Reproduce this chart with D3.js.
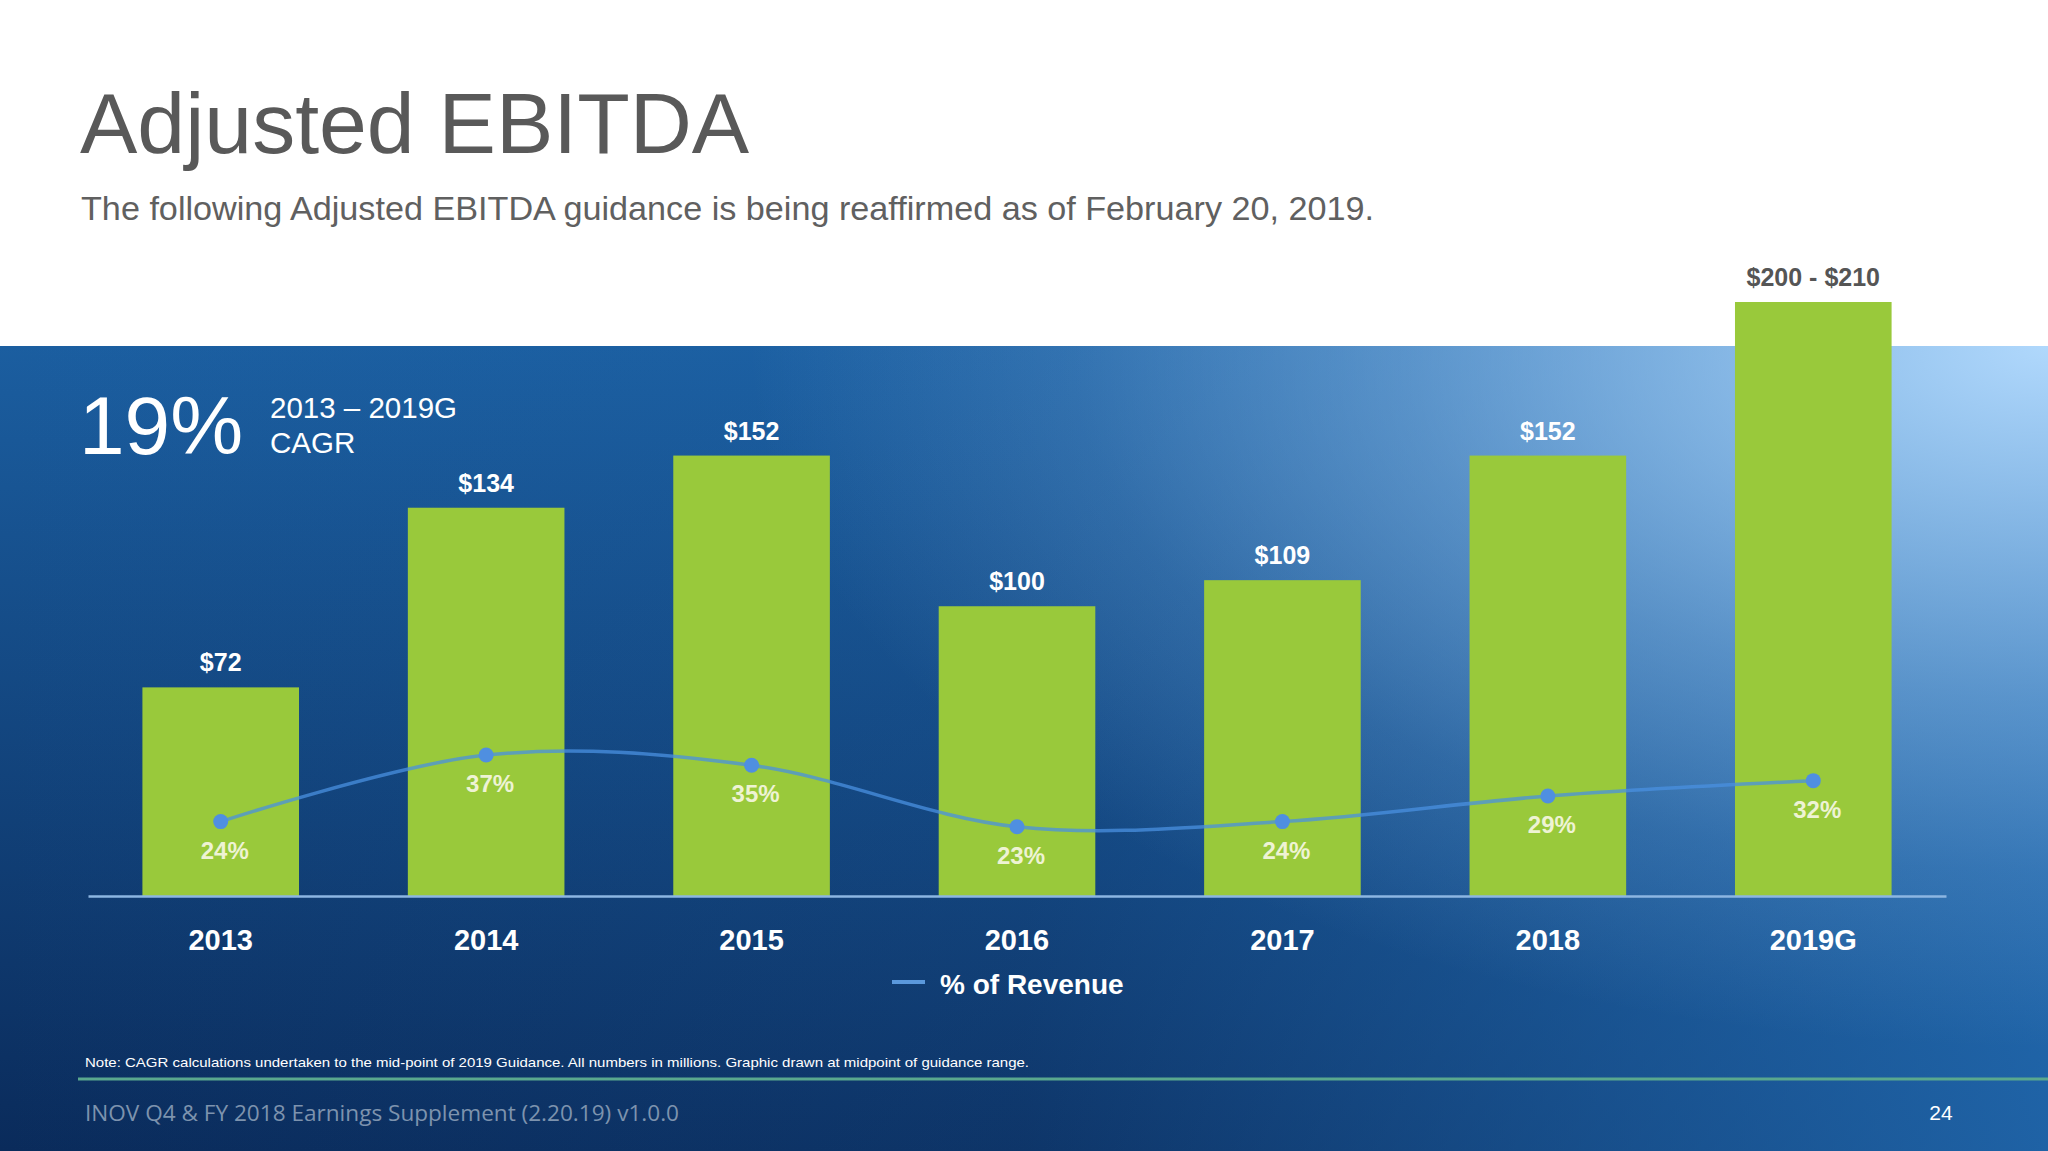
<!DOCTYPE html>
<html><head><meta charset="utf-8">
<script src="https://cdn.jsdelivr.net/npm/d3@7"></script>
<style>html,body{margin:0;padding:0;background:#fff;overflow:hidden}svg{display:block}</style>
</head><body>
<script>
const categories = ["2013","2014","2015","2016","2017","2018","2019G"];
const ebitda = [72,134,152,100,109,152,205];
const ebitdaLabels = ["$72","$134","$152","$100","$109","$152","$200 - $210"];
const pctRevenue = [24,37,35,23,24,29,32];
const pctLabels = ["24%","37%","35%","23%","24%","29%","32%"];

const W = 2048, H = 1151, BAND_TOP = 346;
const FONT = "'Liberation Sans', Arial, sans-serif";
const svg = d3.select("body").append("svg").attr("width", W).attr("height", H);
const defs = svg.append("defs");

// vertical base
const gv = defs.append("linearGradient").attr("id","gv").attr("x1",0).attr("y1",0).attr("x2",0).attr("y2",1);
[[0,"#1b5ea0"],[1,"#0a2b5b"]].forEach(([o,c]) => gv.append("stop").attr("offset",o).attr("stop-color",c));
// horizontal lightening
const gh = defs.append("linearGradient").attr("id","gh").attr("x1",0).attr("y1",0).attr("x2",1).attr("y2",0);
[[0,0],[0.5,0.15],[1,0.8]].forEach(([o,a]) => gh.append("stop").attr("offset",o).attr("stop-color","#2470b8").attr("stop-opacity",a));
// top-right highlight
const gr = defs.append("radialGradient").attr("id","gr").attr("gradientUnits","userSpaceOnUse")
  .attr("cx",W).attr("cy",BAND_TOP).attr("r",1300).attr("fx",W).attr("fy",BAND_TOP)
  .attr("gradientTransform",`translate(${W},${BAND_TOP}) scale(1,0.54) translate(${-W},${-BAND_TOP})`);
[[0,1],[0.25,0.7],[0.5,0.4],[0.75,0.15],[1,0]].forEach(([o,a]) => gr.append("stop").attr("offset",o).attr("stop-color","#b0d8fc").attr("stop-opacity",a));

svg.append("rect").attr("width",W).attr("height",H).attr("fill","#fff");
["gv","gh","gr"].forEach(id => svg.append("rect").attr("x",0).attr("y",BAND_TOP).attr("width",W).attr("height",H-BAND_TOP).attr("fill",`url(#${id})`));

// Title
svg.append("text").attr("x",80).attr("y",153).attr("font-family",FONT).attr("font-size",86)
  .attr("fill","#595959").text("Adjusted EBITDA");
svg.append("text").attr("x",81).attr("y",220).attr("font-family",FONT).attr("font-size",33.5)
  .attr("textLength",1293).attr("lengthAdjust","spacingAndGlyphs")
  .attr("fill","#606060").text("The following Adjusted EBITDA guidance is being reaffirmed as of February 20, 2019.");

// CAGR
svg.append("text").attr("x",79).attr("y",454).attr("font-family",FONT).attr("font-size",82)
  .attr("fill","#fff").text("19%");
svg.append("text").attr("x",270).attr("y",418).attr("font-family",FONT).attr("font-size",29.5)
  .attr("fill","#fff").text("2013 – 2019G");
svg.append("text").attr("x",270).attr("y",453).attr("font-family",FONT).attr("font-size",29.5)
  .attr("fill","#fff").text("CAGR");

// Scales
const x = d3.scaleBand().domain(categories).range([88,1946]).paddingInner(0.41).paddingOuter(0.205);
const y = d3.scaleLinear().domain([0,205]).range([896,302]);
const y2 = d3.scaleLinear().domain([20,40]).range([842.1,739.7]);

const g = svg.append("g");
g.selectAll("rect.bar").data(categories).join("rect").attr("class","bar")
  .attr("x", d => x(d)).attr("width", x.bandwidth())
  .attr("y", (d,i) => y(ebitda[i])).attr("height", (d,i) => y(0) - y(ebitda[i]))
  .attr("fill","#99c93b");

g.selectAll("text.val").data(categories).join("text").attr("class","val")
  .attr("x", d => x(d) + x.bandwidth()/2).attr("y", (d,i) => y(ebitda[i]) - 16)
  .attr("text-anchor","middle").attr("font-family",FONT).attr("font-weight","bold").attr("font-size",25)
  .attr("fill", (d,i) => i === categories.length-1 ? "#555" : "#fff")
  .text((d,i) => ebitdaLabels[i]);

// Axis line
const axis = d3.axisBottom(x).tickSize(0).tickPadding(0).tickFormat("");
const ag = svg.append("g").attr("transform","translate(0,896)").call(axis);
ag.select(".domain").attr("stroke","#8cb6e2").attr("stroke-width",2.5);

// Year labels
svg.selectAll("text.yr").data(categories).join("text").attr("class","yr")
  .attr("x", d => x(d) + x.bandwidth()/2).attr("y", 950)
  .attr("text-anchor","middle").attr("font-family",FONT).attr("font-weight","bold").attr("font-size",29)
  .attr("fill","#fff").text(d => d);

// Line
const cx = d => x(d) + x.bandwidth()/2;
const line = d3.line().x((d,i) => cx(categories[i])).y(d => y2(d)).curve(d3.curveCatmullRom);
svg.append("path").datum(pctRevenue).attr("d", line).attr("fill","none")
  .attr("stroke","#4a90e0").attr("stroke-opacity",0.75).attr("stroke-width",3.5);
svg.selectAll("circle.pt").data(pctRevenue).join("circle").attr("class","pt")
  .attr("cx", (d,i) => cx(categories[i])).attr("cy", d => y2(d)).attr("r",7.5)
  .attr("fill","#4f8fe0");
svg.selectAll("text.pct").data(pctRevenue).join("text").attr("class","pct")
  .attr("x", (d,i) => cx(categories[i]) + 4).attr("y", d => y2(d) + 37)
  .attr("text-anchor","middle").attr("font-family",FONT).attr("font-weight","bold").attr("font-size",24)
  .attr("fill","#eef3d4").text((d,i) => pctLabels[i]);

// Legend
svg.append("line").attr("x1",892).attr("x2",925).attr("y1",982).attr("y2",982)
  .attr("stroke","#5a98dc").attr("stroke-width",4);
svg.append("text").attr("x",940).attr("y",994).attr("font-family",FONT).attr("font-weight","bold")
  .attr("font-size",28).attr("fill","#fff").text("% of Revenue");

// Note
svg.append("text").attr("x",85).attr("y",1067).attr("font-family",FONT).attr("font-size",13)
  .attr("textLength",944).attr("lengthAdjust","spacingAndGlyphs").attr("fill","#fff")
  .text("Note: CAGR calculations undertaken to the mid-point of 2019 Guidance.  All numbers in millions. Graphic drawn at midpoint of guidance range.");
svg.append("line").attr("x1",78).attr("x2",W).attr("y1",1079).attr("y2",1079)
  .attr("stroke","#5aa88e").attr("stroke-width",3);

// Footer
svg.append("text").attr("x",85).attr("y",1121).attr("font-family","'Open Sans', sans-serif").attr("font-size",22)
  .attr("textLength",594).attr("lengthAdjust","spacingAndGlyphs").attr("fill","#7d93ae")
  .text("INOV Q4 & FY 2018 Earnings Supplement (2.20.19) v1.0.0");
svg.append("text").attr("x",1941).attr("y",1120).attr("text-anchor","middle").attr("font-family",FONT)
  .attr("font-size",21).attr("fill","#fff").text("24");
</script>
</body></html>
